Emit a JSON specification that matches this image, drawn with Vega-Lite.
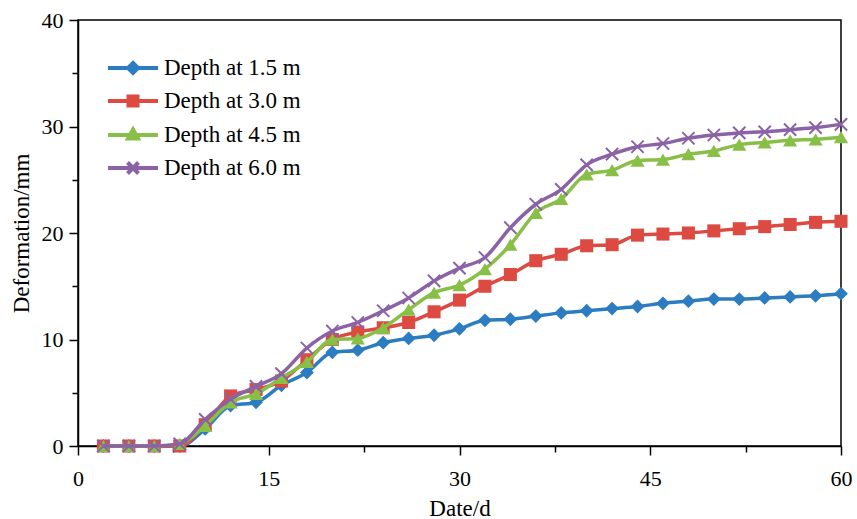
{
  "$schema": "https://vega.github.io/schema/vega-lite/v6.json",
  "width": 763,
  "height": 426,
  "autosize": {"type": "none"},
  "padding": {"left": 78, "top": 20, "right": 16, "bottom": 73},
  "background": "white",
  "view": {"stroke": "black", "strokeWidth": 1.5},
  "config": {
    "font": "Liberation Serif",
    "axis": {
      "labelFont": "Liberation Serif", "labelFontSize": 22, "labelColor": "black",
      "titleFont": "Liberation Serif", "titleFontSize": 23, "titleFontWeight": "normal", "titleColor": "black",
      "domainColor": "black", "domainWidth": 1.5, "tickColor": "black", "tickWidth": 1.5, "grid": false
    },
    "legend": {"labelFont": "Liberation Serif", "labelFontSize": 23, "labelColor": "black"}
  },
  "datasets": {
    "d": [
      {"d":2,"s":"Depth at 1.5 m","v":0},{"d":4,"s":"Depth at 1.5 m","v":0},{"d":6,"s":"Depth at 1.5 m","v":0},{"d":8,"s":"Depth at 1.5 m","v":0},{"d":10,"s":"Depth at 1.5 m","v":1.6},{"d":12,"s":"Depth at 1.5 m","v":3.8},{"d":14,"s":"Depth at 1.5 m","v":4.1},{"d":16,"s":"Depth at 1.5 m","v":5.7},{"d":18,"s":"Depth at 1.5 m","v":6.9},{"d":20,"s":"Depth at 1.5 m","v":8.8},{"d":22,"s":"Depth at 1.5 m","v":9.0},{"d":24,"s":"Depth at 1.5 m","v":9.7},{"d":26,"s":"Depth at 1.5 m","v":10.1},{"d":28,"s":"Depth at 1.5 m","v":10.4},{"d":30,"s":"Depth at 1.5 m","v":11.0},{"d":32,"s":"Depth at 1.5 m","v":11.8},{"d":34,"s":"Depth at 1.5 m","v":11.9},{"d":36,"s":"Depth at 1.5 m","v":12.2},{"d":38,"s":"Depth at 1.5 m","v":12.5},{"d":40,"s":"Depth at 1.5 m","v":12.7},{"d":42,"s":"Depth at 1.5 m","v":12.9},{"d":44,"s":"Depth at 1.5 m","v":13.1},{"d":46,"s":"Depth at 1.5 m","v":13.4},{"d":48,"s":"Depth at 1.5 m","v":13.6},{"d":50,"s":"Depth at 1.5 m","v":13.8},{"d":52,"s":"Depth at 1.5 m","v":13.8},{"d":54,"s":"Depth at 1.5 m","v":13.9},{"d":56,"s":"Depth at 1.5 m","v":14.0},{"d":58,"s":"Depth at 1.5 m","v":14.1},{"d":60,"s":"Depth at 1.5 m","v":14.3},
      {"d":2,"s":"Depth at 3.0 m","v":0},{"d":4,"s":"Depth at 3.0 m","v":0},{"d":6,"s":"Depth at 3.0 m","v":0},{"d":8,"s":"Depth at 3.0 m","v":0},{"d":10,"s":"Depth at 3.0 m","v":2.0},{"d":12,"s":"Depth at 3.0 m","v":4.7},{"d":14,"s":"Depth at 3.0 m","v":5.3},{"d":16,"s":"Depth at 3.0 m","v":6.1},{"d":18,"s":"Depth at 3.0 m","v":8.1},{"d":20,"s":"Depth at 3.0 m","v":10.0},{"d":22,"s":"Depth at 3.0 m","v":10.7},{"d":24,"s":"Depth at 3.0 m","v":11.1},{"d":26,"s":"Depth at 3.0 m","v":11.6},{"d":28,"s":"Depth at 3.0 m","v":12.6},{"d":30,"s":"Depth at 3.0 m","v":13.7},{"d":32,"s":"Depth at 3.0 m","v":15.0},{"d":34,"s":"Depth at 3.0 m","v":16.1},{"d":36,"s":"Depth at 3.0 m","v":17.4},{"d":38,"s":"Depth at 3.0 m","v":18.0},{"d":40,"s":"Depth at 3.0 m","v":18.8},{"d":42,"s":"Depth at 3.0 m","v":18.9},{"d":44,"s":"Depth at 3.0 m","v":19.8},{"d":46,"s":"Depth at 3.0 m","v":19.9},{"d":48,"s":"Depth at 3.0 m","v":20.0},{"d":50,"s":"Depth at 3.0 m","v":20.2},{"d":52,"s":"Depth at 3.0 m","v":20.4},{"d":54,"s":"Depth at 3.0 m","v":20.6},{"d":56,"s":"Depth at 3.0 m","v":20.8},{"d":58,"s":"Depth at 3.0 m","v":21.0},{"d":60,"s":"Depth at 3.0 m","v":21.1},
      {"d":2,"s":"Depth at 4.5 m","v":0},{"d":4,"s":"Depth at 4.5 m","v":0},{"d":6,"s":"Depth at 4.5 m","v":0},{"d":8,"s":"Depth at 4.5 m","v":0.2},{"d":10,"s":"Depth at 4.5 m","v":1.9},{"d":12,"s":"Depth at 4.5 m","v":4.1},{"d":14,"s":"Depth at 4.5 m","v":4.9},{"d":16,"s":"Depth at 4.5 m","v":6.4},{"d":18,"s":"Depth at 4.5 m","v":7.9},{"d":20,"s":"Depth at 4.5 m","v":10.0},{"d":22,"s":"Depth at 4.5 m","v":10.1},{"d":24,"s":"Depth at 4.5 m","v":11.1},{"d":26,"s":"Depth at 4.5 m","v":12.8},{"d":28,"s":"Depth at 4.5 m","v":14.4},{"d":30,"s":"Depth at 4.5 m","v":15.1},{"d":32,"s":"Depth at 4.5 m","v":16.6},{"d":34,"s":"Depth at 4.5 m","v":18.9},{"d":36,"s":"Depth at 4.5 m","v":21.9},{"d":38,"s":"Depth at 4.5 m","v":23.2},{"d":40,"s":"Depth at 4.5 m","v":25.5},{"d":42,"s":"Depth at 4.5 m","v":25.9},{"d":44,"s":"Depth at 4.5 m","v":26.8},{"d":46,"s":"Depth at 4.5 m","v":26.9},{"d":48,"s":"Depth at 4.5 m","v":27.4},{"d":50,"s":"Depth at 4.5 m","v":27.7},{"d":52,"s":"Depth at 4.5 m","v":28.3},{"d":54,"s":"Depth at 4.5 m","v":28.5},{"d":56,"s":"Depth at 4.5 m","v":28.7},{"d":58,"s":"Depth at 4.5 m","v":28.8},{"d":60,"s":"Depth at 4.5 m","v":29.0},
      {"d":2,"s":"Depth at 6.0 m","v":0},{"d":4,"s":"Depth at 6.0 m","v":0},{"d":6,"s":"Depth at 6.0 m","v":0},{"d":8,"s":"Depth at 6.0 m","v":0.2},{"d":10,"s":"Depth at 6.0 m","v":2.5},{"d":12,"s":"Depth at 6.0 m","v":4.4},{"d":14,"s":"Depth at 6.0 m","v":5.6},{"d":16,"s":"Depth at 6.0 m","v":6.8},{"d":18,"s":"Depth at 6.0 m","v":9.2},{"d":20,"s":"Depth at 6.0 m","v":10.8},{"d":22,"s":"Depth at 6.0 m","v":11.6},{"d":24,"s":"Depth at 6.0 m","v":12.7},{"d":26,"s":"Depth at 6.0 m","v":13.9},{"d":28,"s":"Depth at 6.0 m","v":15.5},{"d":30,"s":"Depth at 6.0 m","v":16.7},{"d":32,"s":"Depth at 6.0 m","v":17.7},{"d":34,"s":"Depth at 6.0 m","v":20.5},{"d":36,"s":"Depth at 6.0 m","v":22.7},{"d":38,"s":"Depth at 6.0 m","v":24.1},{"d":40,"s":"Depth at 6.0 m","v":26.4},{"d":42,"s":"Depth at 6.0 m","v":27.4},{"d":44,"s":"Depth at 6.0 m","v":28.1},{"d":46,"s":"Depth at 6.0 m","v":28.4},{"d":48,"s":"Depth at 6.0 m","v":28.9},{"d":50,"s":"Depth at 6.0 m","v":29.2},{"d":52,"s":"Depth at 6.0 m","v":29.4},{"d":54,"s":"Depth at 6.0 m","v":29.5},{"d":56,"s":"Depth at 6.0 m","v":29.7},{"d":58,"s":"Depth at 6.0 m","v":29.9},{"d":60,"s":"Depth at 6.0 m","v":30.2}
    ]
  },
  "data": {"name": "d"},
  "encoding": {
    "x": {
      "field": "d", "type": "quantitative",
      "scale": {"domain": [0, 60], "nice": false, "zero": false},
      "axis": {
        "title": "Date/d", "values": [0, 7.5, 15, 22.5, 30, 37.5, 45, 52.5, 60],
        "labelExpr": "datum.value % 15 === 0 ? datum.label : ''",
        "tickSize": {"condition": {"test": "datum.value % 15 === 0", "value": 9}, "value": 6},
        "labelPadding": 13, "labelFlush": false, "titlePadding": 8
      }
    },
    "y": {
      "field": "v", "type": "quantitative",
      "scale": {"domain": [0, 40], "nice": false},
      "axis": {
        "title": "Deformation/mm", "values": [0, 5, 10, 15, 20, 25, 30, 35, 40],
        "labelExpr": "datum.value % 10 === 0 ? datum.label : ''",
        "tickSize": {"condition": {"test": "datum.value % 10 === 0", "value": 9}, "value": 6},
        "labelPadding": 6, "titlePadding": 8
      }
    },
    "color": {
      "field": "s", "type": "nominal",
      "scale": {
        "domain": ["Depth at 1.5 m", "Depth at 3.0 m", "Depth at 4.5 m", "Depth at 6.0 m"],
        "range": ["#2b7cc1", "#dc4a42", "#88bf47", "#8a63a6"]
      },
      "legend": {
        "title": null, "orient": "none", "legendX": 43, "legendY": 36,
        "symbolSize": 400, "symbolStrokeWidth": 4, "labelOffset": 19, "rowPadding": 7,
        "encode": {
          "symbols": {
            "update": {
              "shape": {"signal": "datum.value === 'Depth at 1.5 m' ? 'M-2.5,0H2.5M0,-0.5L0.5,0L0,0.5L-0.5,0Z' : datum.value === 'Depth at 3.0 m' ? 'M-2.5,0H2.5M-0.45,-0.45H0.45V0.45H-0.45Z' : datum.value === 'Depth at 4.5 m' ? 'M-2.5,0H2.5M0,-0.55L0.5,0.35H-0.5Z' : 'M-2.5,0H2.5M-0.55,-0.55L0.55,0.55M-0.55,0.55L0.55,-0.55'"},
              "fill": {"scale": "color", "field": "value"},
              "stroke": {"scale": "color", "field": "value"},
              "strokeWidth": {"value": 4},
              "opacity": {"value": 1},
              "fillOpacity": {"value": 1}
            }
          }
        }
      }
    }
  },
  "layer": [
    {
      "transform": [{"filter": "datum.s === 'Depth at 1.5 m'"}],
      "mark": {"type": "line", "interpolate": "monotone", "strokeWidth": 3.5,
        "point": {"shape": "diamond", "size": 190, "filled": true}}
    },
    {
      "transform": [{"filter": "datum.s === 'Depth at 3.0 m'"}],
      "mark": {"type": "line", "interpolate": "monotone", "strokeWidth": 3.5,
        "point": {"shape": "square", "size": 170, "filled": true}}
    },
    {
      "transform": [{"filter": "datum.s === 'Depth at 4.5 m'"}],
      "mark": {"type": "line", "interpolate": "monotone", "strokeWidth": 3.5,
        "point": {"shape": "triangle-up", "size": 200, "filled": true}}
    },
    {
      "transform": [{"filter": "datum.s === 'Depth at 6.0 m'"}],
      "mark": {"type": "line", "interpolate": "monotone", "strokeWidth": 3.5,
        "point": {"shape": "M-1,-1L1,1M-1,1L1,-1", "size": 150, "filled": false, "strokeWidth": 2}}
    }
  ]
}
